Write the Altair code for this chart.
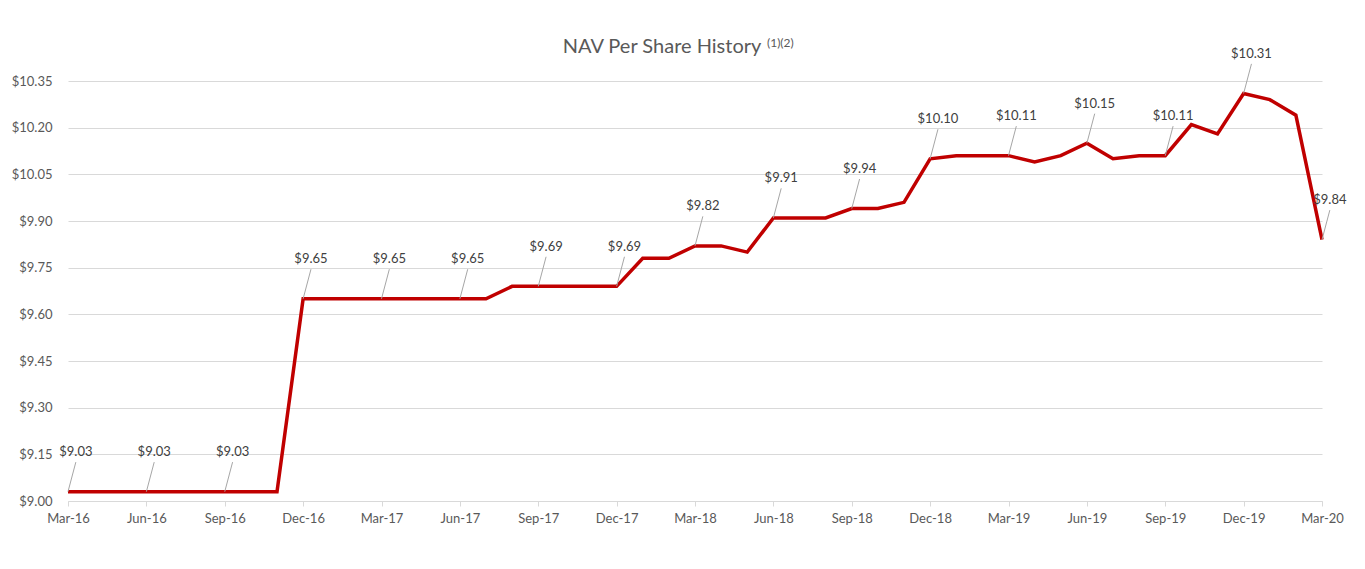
import altair as alt
import pandas as pd

# Monthly NAV per share, Mar-16 .. Mar-20
months = [
    "Mar-16", "Apr-16", "May-16", "Jun-16", "Jul-16", "Aug-16", "Sep-16", "Oct-16", "Nov-16",
    "Dec-16", "Jan-17", "Feb-17", "Mar-17", "Apr-17", "May-17", "Jun-17", "Jul-17",
    "Aug-17", "Sep-17", "Oct-17", "Nov-17", "Dec-17",
    "Jan-18", "Feb-18", "Mar-18", "Apr-18", "May-18", "Jun-18", "Jul-18", "Aug-18",
    "Sep-18", "Oct-18", "Nov-18", "Dec-18",
    "Jan-19", "Feb-19", "Mar-19", "Apr-19", "May-19", "Jun-19", "Jul-19", "Aug-19",
    "Sep-19", "Oct-19", "Nov-19", "Dec-19",
    "Jan-20", "Feb-20", "Mar-20",
]
nav = [
    9.03, 9.03, 9.03, 9.03, 9.03, 9.03, 9.03, 9.03, 9.03,
    9.65, 9.65, 9.65, 9.65, 9.65, 9.65, 9.65, 9.65,
    9.69, 9.69, 9.69, 9.69, 9.69,
    9.78, 9.78, 9.82, 9.82, 9.80, 9.91, 9.91, 9.91,
    9.94, 9.94, 9.96, 10.10,
    10.11, 10.11, 10.11, 10.09, 10.11, 10.15, 10.10, 10.11,
    10.11, 10.21, 10.18, 10.31,
    10.29, 10.24, 9.84,
]
tick_labels = [
    "Mar-16", "Jun-16", "Sep-16", "Dec-16", "Mar-17", "Jun-17", "Sep-17", "Dec-17",
    "Mar-18", "Jun-18", "Sep-18", "Dec-18", "Mar-19", "Jun-19", "Sep-19", "Dec-19", "Mar-20",
]
y_ticks = [9.00, 9.15, 9.30, 9.45, 9.60, 9.75, 9.90, 10.05, 10.20, 10.35]
title_text = ["NAV Per Share History"]
title_sup = ["(1)(2)"]

df = pd.DataFrame({"idx": list(range(len(months))), "month": months, "nav": nav})

FONT = "Lato"
RED = "#C00000"
GRAY_TXT = "#595959"
GRID = "#D9D9D9"

label_expr = "[" + ",".join(f"'{t}'" for t in tick_labels) + "][round(datum.value/3)]"

x = alt.X(
    "idx:Q",
    scale=alt.Scale(domain=[0, len(months) - 1], nice=False, zero=False),
    axis=alt.Axis(
        values=list(range(0, len(months), 3)),
        labelExpr=label_expr,
        labelFlush=False,
        labelOverlap=False,
        title=None,
        grid=False,
        domainColor=GRID,
        tickColor=GRID,
        tickSize=5,
        labelColor=GRAY_TXT,
        labelFont=FONT,
        labelFontSize=13,
        labelPadding=6,
    ),
)
y = alt.Y(
    "nav:Q",
    scale=alt.Scale(domain=[9.00, 10.35], nice=False, zero=False),
    axis=alt.Axis(
        values=y_ticks,
        format="$.2f",
        title=None,
        domain=False,
        ticks=False,
        gridColor=GRID,
        labelColor=GRAY_TXT,
        labelFont=FONT,
        labelFontSize=13,
        labelPadding=16,
    ),
)

base = alt.Chart(df)

line = base.mark_line(color=RED, strokeWidth=3.5, strokeJoin="miter").encode(x=x, y=y)

ann = base.transform_filter("datum.idx % 3 == 0").transform_calculate(
    idx2="datum.idx + 0.3",
    nav2="datum.nav + 0.095",
    lab="'$' + format(datum.nav, '.2f')",
)

leaders = ann.mark_rule(color="#A6A6A6", strokeWidth=1).encode(
    x="idx:Q", x2="idx2:Q", y="nav:Q", y2="nav2:Q"
)

labels = ann.mark_text(
    font=FONT, fontSize=13, color="#404040", baseline="bottom", dy=-3
).encode(x="idx2:Q", y="nav2:Q", text="lab:N")

title = alt.Chart(pd.DataFrame({"t": title_text})).mark_text(
    font=FONT, fontSize=20, fontWeight="normal", color=GRAY_TXT, align="center", baseline="middle"
).encode(x=alt.value(594), y=alt.value(-34), text="t:N")

sup = alt.Chart(pd.DataFrame({"t": title_sup})).mark_text(
    font=FONT, fontSize=12, fontWeight="normal", color=GRAY_TXT, align="left", baseline="middle"
).encode(x=alt.value(699), y=alt.value(-38), text="t:N")

chart = (
    alt.layer(line, leaders, labels, title, sup)
    .properties(
        width=1254,
        height=420,
        autosize=alt.AutoSizeParams(type="none"),
        padding={"left": 68, "top": 81, "right": 43, "bottom": 68},
        background="white",
    )
    .configure_view(stroke=None)
)

chart.save("out.html", embed_options={"renderer": "svg", "actions": False})
